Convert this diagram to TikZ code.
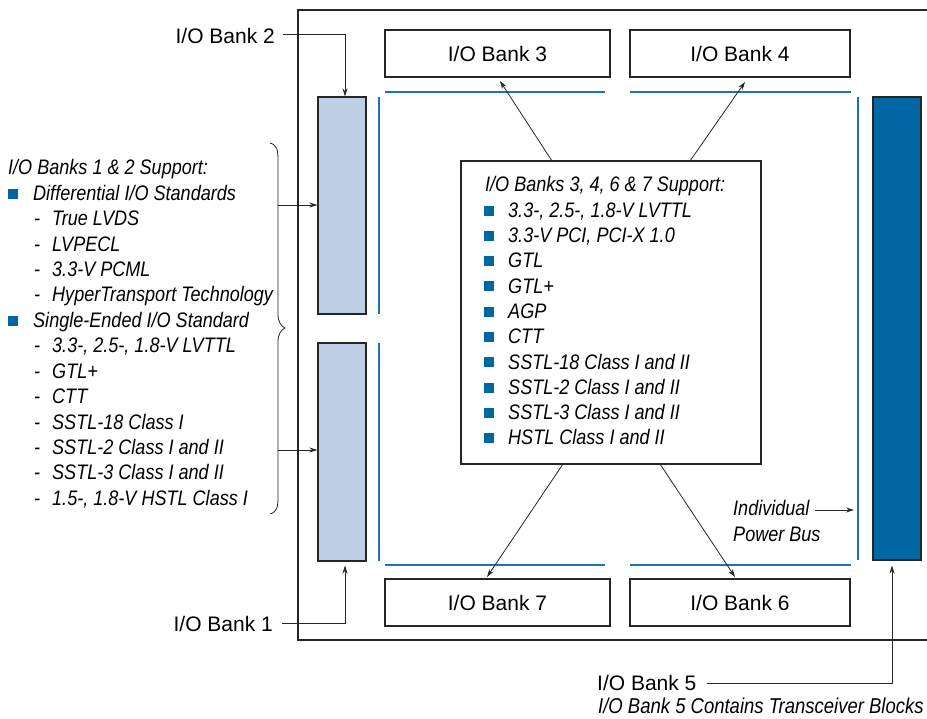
\documentclass[tikz,border=0pt]{standalone}
\usepackage{fontspec}
\setmainfont{Liberation Sans}
\newfontfamily\cnit{Liberation Sans}[FakeStretch=0.86]
\usetikzlibrary{arrows.meta}
\definecolor{lightbank}{HTML}{BDD0E6}
\definecolor{darkbank}{HTML}{0066A4}
\definecolor{busblue}{HTML}{1A74B8}
\tikzset{
  bankbox/.style={draw=black!85, line width=1.1pt, fill=white, inner sep=0pt,
    font=\fontsize{21}{25}\selectfont},
  vbank/.style={draw=black!85, line width=1.1pt, inner sep=0pt, minimum width=48pt},
  bus/.style={draw=busblue, line width=1.2pt},
  conn/.style={draw=black!85, line width=0.8pt},
  arr/.style={conn, -{Stealth[length=8pt,width=5pt]}},
  lbl/.style={inner sep=0pt, font=\fontsize{21}{25}\selectfont},
  itl/.style={inner sep=0pt, font=\fontsize{21}{25}\cnit\itshape},
  sq/.style={fill=darkbank, inner sep=0pt, minimum size=10pt}
}
\begin{document}
\begin{tikzpicture}[x=1pt,y=-1pt]
\useasboundingbox (0,0) rectangle (927,719);
% chip outline
\draw[line width=1.1pt, black!85] (927,10) -- (298,10) -- (298,640) -- (927,640);
% top and bottom banks
\node[bankbox, minimum width=225pt, minimum height=47pt] (b3) at (497.5,53.5) {I/O Bank 3};
\node[bankbox, minimum width=220pt, minimum height=47pt] (b4) at (740,53.5) {I/O Bank 4};
\node[bankbox, minimum width=225pt, minimum height=47pt] (b7) at (497.5,602.5) {I/O Bank 7};
\node[bankbox, minimum width=220pt, minimum height=47pt] (b6) at (740,602.5) {I/O Bank 6};
% vertical banks
\node[vbank, fill=lightbank, minimum height=217pt] (b2) at (342,205.5) {};
\node[vbank, fill=lightbank, minimum height=218pt] (b1) at (342,452) {};
\node[vbank, fill=darkbank, minimum height=463pt] (b5) at (897,328.5) {};
% power bus lines
\draw[bus] (385,92) -- (605,92);
\draw[bus] (630,92) -- (851,92);
\draw[bus] (385,565) -- (605,565);
\draw[bus] (630,565) -- (851,565);
\draw[bus] (379,97) -- (379,314);
\draw[bus] (379,343) -- (379,561);
\draw[bus] (858,97) -- (858,560);
% centre box
\node[draw=black!85, line width=1.1pt, fill=white, minimum width=300pt, minimum height=303pt, inner sep=0pt] (cb) at (611,312.5) {};
\node[itl, anchor=base west] (ct) at (485,192) {I/O Banks 3, 4, 6 \& 7 Support:};
\foreach \t [count=\i] in {{3.3-, 2.5-, 1.8-V LVTTL},{3.3-V PCI, PCI-X 1.0},GTL,GTL+,AGP,CTT,
  {SSTL-18 Class I and II},{SSTL-2 Class I and II},{SSTL-3 Class I and II},{HSTL Class I and II}}{
  \pgfmathsetmacro{\yy}{192+25.3*\i}
  \node[sq, anchor=south west] (cs\i) at (484,\yy-1.5) {};
  \node[itl, anchor=base west] (ci\i) at (508,\yy) {\t};
}
% arrows from centre box
\coordinate (c3) at (552,161);
\coordinate (c4) at (690,161);
\coordinate (c7) at (563,464);
\coordinate (c6) at (660,464);
\coordinate (t3) at (500,81);
\coordinate (t4) at (745,82);
\coordinate (t7) at (487,577);
\coordinate (t6) at (735,577);
\draw[arr] (c3) -- (t3);
\draw[arr] (c4) -- (t4);
\draw[arr] (c7) -- (t7);
\draw[arr] (c6) -- (t6);
% left support list
\node[itl, anchor=base west] (lt) at (8,175) {I/O Banks 1 \& 2 Support:};
\foreach \kind/\t [count=\i] in {b/{Differential I/O Standards},d/{True LVDS},d/LVPECL,d/{3.3-V PCML},
  d/{HyperTransport Technology},b/{Single-Ended I/O Standard},d/{3.3-, 2.5-, 1.8-V LVTTL},d/GTL+,d/CTT,
  d/{SSTL-18 Class I},d/{SSTL-2 Class I and II},d/{SSTL-3 Class I and II},d/{1.5-, 1.8-V HSTL Class I}}{
  \pgfmathsetmacro{\yy}{175+25.4*\i}
  \if b\kind
    \node[sq, anchor=south west] (ls\i) at (8,\yy-1.5) {};
    \node[itl, anchor=base west] (li\i) at (33,\yy) {\t};
  \else
    \node[itl, anchor=base west] (ld\i) at (34,\yy) {-};
    \node[itl, anchor=base west] (li\i) at (52,\yy) {\t};
  \fi
}
% brace
\draw[conn] (270,143) .. controls (277,145) and (278,150) .. (278,160) -- (278,314)
  .. controls (278,322) and (281,326) .. (285,328)
  .. controls (281,330) and (278,334) .. (278,342) -- (278,497)
  .. controls (278,507) and (277,512) .. (270,514);
\coordinate (br2) at (278,205);
\coordinate (br1) at (278,450);
\draw[arr] (br2) -- (br2 -| b2.west);
\draw[arr] (br1) -- (br1 -| b1.west);
% bank labels
\node[lbl, anchor=base east] (l2) at (275,44) {I/O Bank 2};
\coordinate (l2e) at (283,34);
\draw[arr] (l2e) -- (345,34) -- ([xshift=3pt]b2.north);
\node[lbl, anchor=base east] (l1) at (273,631) {I/O Bank 1};
\coordinate (l1e) at (282,623);
\draw[arr] (l1e) -- (345,623) -- ([xshift=3pt,yshift=-4pt]b1.south);
\node[lbl, anchor=base west] (l5) at (597,690) {I/O Bank 5};
\coordinate (l5e) at (707,683);
\draw[arr] (l5e) -- (892,683) -- ([xshift=-5pt,yshift=-5pt]b5.south);
\node[itl, anchor=base west, font=\fontsize{21.5}{25}\cnit\itshape] (l5n) at (598,713) {I/O Bank 5 Contains Transceiver Blocks};
% power bus label
\node[itl, anchor=base west] (pb1) at (733,515) {Individual};
\node[itl, anchor=base west] (pb2) at (733,541) {Power Bus};
\coordinate (pbs) at (815,510);
\coordinate (pbe) at (854,510);
\draw[arr] (pbs) -- (pbe);
\end{tikzpicture}
\end{document}
